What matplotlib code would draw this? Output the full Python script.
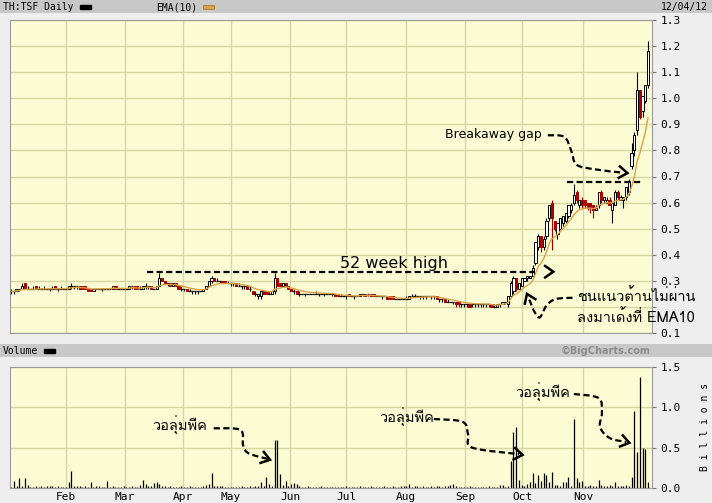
import numpy as np
import pandas as pd
import matplotlib
matplotlib.use('Agg')
import matplotlib.pyplot as plt
from matplotlib import font_manager
from matplotlib.ft2font import FT2Font
from matplotlib.path import Path
from matplotlib.patches import PathPatch, Rectangle
from matplotlib.lines import Line2D
from matplotlib.transforms import IdentityTransform

# daily candles, one row of ten trading days per line (Jan 2012 .. 4 Dec 2012)
opens = [
    .26, .26, .26, .27, .27, .29, .27, .27, .27, .28,
    .27, .27, .27, .27, .27, .27, .28, .27, .27, .27,
    .27, .27, .28, .28, .28, .28, .28, .28, .27, .27,
    .26, .27, .27, .27, .27, .27, .27, .27, .28, .27,
    .27, .27, .27, .27, .28, .28, .28, .27, .27, .28,
    .28, .28, .27, .27, .28, .31, .30, .29, .29, .28,
    .29, .28, .27, .27, .27, .26, .26, .26, .26, .26,
    .26, .27, .28, .30, .31, .30, .30, .30, .30, .29,
    .29, .29, .29, .28, .28, .28, .28, .27, .26, .25,
    .24, .24, .26, .26, .25, .25, .26, .31, .29, .28,
    .29, .28, .27, .26, .26, .25, .25, .25, .25, .25,
    .25, .25, .25, .25, .25, .25, .25, .25, .25, .25,
    .24, .24, .24, .25, .24, .24, .24, .24, .25, .25,
    .25, .25, .25, .24, .24, .24, .24, .24, .24, .24,
    .23, .23, .23, .23, .23, .23, .24, .24, .24, .24,
    .24, .24, .24, .24, .24, .24, .23, .23, .23, .22,
    .22, .22, .22, .22, .21, .21, .21, .21, .21, .21,
    .21, .21, .21, .21, .21, .21, .20, .20, .21, .21,
    .22, .21, .24, .26, .31, .27, .28, .30, .31, .31,
    .32, .37, .43, .47, .43, .47, .54, .60, .53, .48,
    .50, .52, .53, .55, .57, .60, .64, .59, .61, .61,
    .60, .60, .59, .57, .59, .64, .61, .60, .61, .57,
    .59, .64, .61, .61, .62, .64, .74, .80, .88, 1.03,
    .95, .99, 1.05]
highs = [
    .27, .26, .27, .27, .29, .29, .28, .27, .28, .28,
    .28, .27, .28, .27, .27, .28, .28, .27, .28, .27,
    .27, .28, .29, .28, .28, .28, .28, .28, .27, .27,
    .27, .27, .27, .27, .27, .27, .27, .28, .28, .27,
    .27, .27, .27, .28, .28, .28, .28, .28, .28, .29,
    .28, .28, .27, .28, .33, .31, .30, .29, .29, .29,
    .29, .28, .28, .27, .27, .27, .26, .26, .26, .26,
    .27, .28, .30, .32, .31, .31, .30, .30, .30, .30,
    .29, .29, .29, .29, .28, .28, .28, .28, .26, .26,
    .25, .26, .26, .26, .26, .26, .33, .31, .29, .29,
    .29, .28, .27, .27, .26, .26, .25, .25, .25, .25,
    .25, .26, .25, .25, .25, .25, .25, .25, .25, .25,
    .25, .24, .24, .25, .24, .24, .24, .25, .25, .25,
    .25, .25, .25, .24, .24, .24, .24, .24, .24, .24,
    .23, .23, .23, .23, .24, .24, .25, .25, .24, .24,
    .24, .24, .24, .24, .24, .24, .23, .23, .23, .23,
    .22, .22, .22, .22, .21, .21, .21, .21, .21, .21,
    .21, .21, .21, .21, .21, .21, .21, .21, .21, .22,
    .22, .24, .30, .32, .31, .29, .31, .31, .32, .32,
    .36, .45, .48, .47, .47, .54, .59, .61, .53, .52,
    .54, .55, .56, .59, .60, .67, .65, .61, .62, .61,
    .60, .60, .59, .59, .64, .65, .62, .62, .62, .60,
    .65, .65, .63, .62, .66, .69, .83, .87, 1.10, 1.03,
    1.01, 1.05, 1.22]
lows = [
    .25, .25, .26, .26, .27, .27, .27, .27, .27, .27,
    .27, .27, .27, .27, .26, .27, .27, .26, .27, .27,
    .27, .27, .27, .27, .27, .27, .27, .27, .26, .26,
    .26, .27, .27, .26, .27, .27, .27, .27, .27, .27,
    .27, .27, .27, .27, .27, .27, .27, .27, .27, .27,
    .27, .27, .27, .27, .28, .30, .29, .28, .28, .28,
    .28, .27, .26, .26, .26, .26, .25, .25, .25, .26,
    .26, .27, .28, .29, .30, .30, .29, .29, .29, .29,
    .28, .28, .28, .28, .27, .27, .27, .26, .25, .24,
    .23, .23, .25, .25, .25, .25, .25, .28, .28, .28,
    .28, .27, .26, .25, .25, .24, .25, .24, .25, .25,
    .25, .25, .24, .25, .24, .25, .25, .24, .24, .24,
    .24, .24, .23, .24, .24, .23, .24, .24, .24, .24,
    .24, .24, .24, .24, .24, .23, .24, .23, .23, .23,
    .23, .23, .23, .23, .23, .23, .24, .24, .24, .23,
    .23, .23, .24, .23, .23, .23, .22, .22, .22, .22,
    .22, .21, .20, .20, .20, .20, .20, .20, .20, .20,
    .20, .20, .20, .20, .20, .20, .20, .20, .20, .21,
    .21, .20, .24, .25, .26, .27, .28, .30, .30, .31,
    .32, .36, .42, .41, .42, .46, .53, .42, .49, .46,
    .50, .51, .52, .54, .56, .59, .60, .58, .58, .58,
    .57, .56, .54, .57, .58, .60, .60, .60, .59, .52,
    .59, .61, .61, .58, .61, .63, .73, .78, .86, .92,
    .93, .98, 1.04]
closes = [
    .26, .26, .27, .27, .28, .27, .27, .27, .27, .27,
    .27, .27, .27, .27, .27, .27, .27, .27, .27, .27,
    .27, .28, .28, .28, .28, .27, .27, .27, .26, .26,
    .27, .27, .27, .27, .27, .27, .27, .28, .27, .27,
    .27, .27, .27, .28, .28, .27, .27, .27, .28, .28,
    .28, .27, .27, .28, .31, .30, .29, .29, .28, .29,
    .28, .27, .27, .27, .26, .26, .26, .26, .26, .26,
    .27, .28, .30, .31, .30, .30, .30, .29, .29, .29,
    .29, .29, .28, .28, .28, .28, .27, .27, .25, .25,
    .25, .26, .25, .25, .25, .26, .31, .28, .28, .29,
    .28, .27, .26, .26, .25, .25, .25, .25, .25, .25,
    .25, .25, .25, .25, .25, .25, .25, .25, .24, .24,
    .24, .24, .24, .24, .24, .24, .24, .25, .25, .24,
    .25, .24, .24, .24, .24, .24, .24, .23, .23, .23,
    .23, .23, .23, .23, .23, .24, .24, .24, .24, .24,
    .24, .24, .24, .24, .24, .23, .23, .23, .22, .22,
    .22, .22, .21, .21, .21, .21, .21, .20, .21, .21,
    .21, .21, .21, .21, .21, .20, .20, .21, .21, .22,
    .22, .24, .29, .31, .27, .29, .31, .31, .32, .32,
    .35, .45, .47, .43, .46, .53, .59, .54, .50, .52,
    .54, .55, .56, .59, .59, .63, .61, .61, .59, .59,
    .58, .58, .57, .58, .64, .61, .62, .61, .59, .60,
    .64, .62, .62, .62, .66, .68, .79, .86, 1.03, .93,
    1.01, 1.05, 1.18]
# volume in billions of shares
volumes = [
    .01, .09, .02, .12, .03, .13, .04, .01, .01, .02,
    .01, .03, .01, .03, .02, .02, .01, .02, .01, .01,
    .01, .08, .21, .02, .03, .02, .01, .02, .01, .08,
    .01, .02, .03, .01, .01, .09, .01, .02, .01, .01,
    .01, .02, .01, .01, .02, .01, .01, .04, .10, .05,
    .03, .02, .06, .07, .05, .02, .02, .01, .02, .01,
    .01, .01, .02, .01, .01, .02, .01, .01, .01, .01,
    .03, .04, .05, .18, .03, .02, .03, .02, .01, .01,
    .01, .01, .01, .01, .02, .01, .01, .03, .01, .03,
    .02, .08, .03, .14, .05, .02, .59, .59, .17, .04,
    .09, .03, .05, .06, .05, .02, .01, .01, .02, .01,
    .01, .01, .01, .02, .01, .01, .01, .01, .01, .01,
    .01, .01, .02, .01, .01, .01, .01, .02, .01, .01,
    .01, .02, .01, .01, .01, .01, .02, .01, .01, .02,
    .01, .01, .02, .03, .02, .05, .01, .03, .02, .01,
    .02, .01, .01, .02, .01, .03, .02, .01, .02, .03,
    .04, .05, .02, .01, .01, .01, .01, .02, .01, .01,
    .01, .01, .01, .01, .02, .01, .01, .01, .04, .04,
    .01, .03, .33, .69, .76, .10, .04, .03, .05, .08,
    .18, .06, .16, .09, .18, .16, .07, .20, .04, .04,
    .03, .08, .08, .14, .03, .85, .12, .08, .09, .03,
    .02, .04, .03, .02, .10, .04, .03, .03, .04, .02,
    .07, .02, .03, .02, .04, .03, .14, .96, .45, 1.37,
    .50, .48, .07]
months = ['Feb', 'Mar', 'Apr', 'May', 'Jun', 'Jul', 'Aug', 'Sep', 'Oct', 'Nov']
month_pos = [20.0, 41.5, 62.6, 80.1, 101.6, 122.0, 143.8, 165.3, 186.1, 208.3]
price_ticks = [0.1, 0.2, 0.3, 0.4, 0.5, 0.6, 0.7, 0.8, 0.9, 1.0, 1.1, 1.2, 1.3]

W, H = 712, 503
BG = '#eeeeee'
PANEL = '#fcfcd4'
GRID = '#d6d6a2'
RED = '#a80000'
EMA_C = '#d9a248'
MONO = 'DejaVu Sans Mono'


def thai_font():
    for f in font_manager.fontManager.ttflist:
        try:
            if 0x0E0A in FT2Font(f.fname).get_charmap():
                return f.name
        except Exception:
            pass
    return 'DejaVu Sans'


THAI = [thai_font(), 'DejaVu Sans']


def fy(py):
    return 1 - py / H


def smooth(pts):
    pts = np.asarray(pts, float)
    verts, codes = [pts[0]], [Path.MOVETO]
    n = len(pts)
    for i in range(n - 1):
        p0, p1, p2, p3 = pts[max(i - 1, 0)], pts[i], pts[i + 1], pts[min(i + 2, n - 1)]
        verts += [p1 + (p2 - p0) / 6, p2 - (p3 - p1) / 6, p2]
        codes += [Path.CURVE4] * 3
    return Path(verts, codes)


def dashed(ax, pts):
    ax.add_patch(PathPatch(smooth(pts), fill=False, ec='black', lw=1.6,
                           ls=(0, (2.8, 1.5)), transform=ax.transData,
                           clip_on=False, zorder=6))


def head(ax, tip, frm, size=10, ang=35):
    t = ax.transData.transform(tip)
    f = ax.transData.transform(frm)
    d = (t - f) / np.hypot(*(t - f))
    arms = []
    for s in (1, -1):
        a = np.radians(ang * s)
        r = np.array([d[0] * np.cos(a) - d[1] * np.sin(a),
                      d[0] * np.sin(a) + d[1] * np.cos(a)])
        arms.append(t - r * size)
    ax.add_line(Line2D([arms[0][0], t[0], arms[1][0]], [arms[0][1], t[1], arms[1][1]],
                       transform=IdentityTransform(), color='black', lw=1.8,
                       solid_joinstyle='miter', clip_on=False, zorder=7))


fig = plt.figure(figsize=(W / 100, H / 100), dpi=100, facecolor=BG)

# header bars
for top, bot in [(0, 13), (344, 357)]:
    fig.add_artist(Rectangle((0, fy(bot)), 1, (bot - top) / H, transform=fig.transFigure,
                             facecolor='#c8c8c8', edgecolor='none'))
fig.text(3 / W, fy(7), 'TH:TSF Daily', fontsize=7, family=MONO, va='center')
fig.add_artist(Rectangle((80 / W, fy(8.5)), 11 / W, 4 / H, transform=fig.transFigure, color='black'))
fig.text(156 / W, fy(7), 'EMA(10)', fontsize=7, family=MONO, va='center')
fig.add_artist(Rectangle((203 / W, fy(8.5)), 11 / W, 4 / H, transform=fig.transFigure,
                         facecolor=EMA_C, edgecolor='#a07020', lw=0.5))
fig.text(708 / W, fy(7), '12/04/12', fontsize=7, family=MONO, va='center', ha='right')
fig.text(3 / W, fy(351), 'Volume', fontsize=7, family=MONO, va='center')
fig.add_artist(Rectangle((44 / W, fy(353)), 11 / W, 4 / H, transform=fig.transFigure, color='black'))
fig.text(651 / W, fy(351), '\u00a9BigCharts.com', fontsize=7, weight='bold', color='#8c8c8c',
         va='center', ha='right')

ax = fig.add_axes([10 / W, fy(333), 642 / W, 313 / H])
axv = fig.add_axes([10 / W, fy(488), 642 / W, 121 / H])

x = np.arange(len(closes))
o, h, l, c = (np.array(v) for v in (opens, highs, lows, closes))
flat = np.isclose(c, o)
up = (c > o) & ~flat
down = (c < o) & ~flat

for a in (ax, axv):
    a.set_facecolor(PANEL)
    a.set_xlim(-0.4, len(closes) + 0.45)
    a.set_xticks(month_pos)
    a.grid(True, color=GRID, lw=1)
    a.set_axisbelow(True)
    a.yaxis.tick_right()
    a.tick_params(axis='y', length=3, color='#777777', labelsize=8, pad=3)
    a.tick_params(axis='x', length=0)
    for s in a.spines.values():
        s.set_color('#9a9a9a')

# price panel
ax.set_ylim(0.1, 1.3)
ax.set_yticks(price_ticks)
# the 0.2 label sits under the Thai note in the original
ax.set_yticklabels(['' if v == 0.2 else '%.1f' % v for v in price_ticks], family=MONO)
ax.set_xticklabels([])
ax.vlines(x[~down], l[~down], h[~down], color='black', lw=0.8, zorder=3)
ax.vlines(x[down], l[down], h[down], color=RED, lw=0.8, zorder=3)
ax.bar(x[up], c[up] - o[up], bottom=o[up], width=0.8, facecolor='white',
       edgecolor='black', lw=0.7, zorder=4)
ax.bar(x[down], o[down] - c[down], bottom=c[down], width=0.8, facecolor=RED,
       edgecolor=RED, lw=0.7, zorder=4)
ax.hlines(c[flat], x[flat] - 0.5, x[flat] + 0.5, color='black', lw=0.9, zorder=4)
ema = pd.Series(closes).ewm(span=10, adjust=False).mean()
ax.plot(x, ema, color=EMA_C, lw=1.0, zorder=5)

# volume panel
axv.set_ylim(0, 1.5)
axv.set_yticks([0, 0.5, 1.0, 1.5])
axv.set_yticklabels(['0.0', '0.5', '1.0', '1.5'], family=MONO)
axv.set_xticklabels(months, family=MONO, fontsize=8)
axv.tick_params(axis='x', pad=3)
axv.vlines(x, 0, volumes, color='black', lw=0.9, zorder=3)
fig.text(705 / W, fy(427), 'B i l l i o n s', rotation=90, fontsize=7, family=MONO,
         va='center', ha='center')

# annotations on price
ax.plot([49.5, 191], [0.335, 0.335], color='black', lw=1.6, ls=(0, (2.8, 1.5)), zorder=6)
head(ax, (197.5, 0.335), (190, 0.335))
ax.text(139.5, 0.366, '52 week high', fontsize=11.5, ha='center', va='center', zorder=8)
ax.plot([202.5, 229.5], [0.678, 0.678], color='black', lw=1.6, ls=(0, (2.8, 1.5)), zorder=6)
ax.text(158, 0.862, 'Breakaway gap', fontsize=9, ha='left', va='center', zorder=8)
gap_pts = [(195.5, 0.858), (201.5, 0.852), (204, 0.80), (206, 0.745), (213, 0.727), (224.5, 0.713)]
dashed(ax, gap_pts[:-1] + [(222.5, 0.715)])
head(ax, gap_pts[-1], (213, 0.727))
ax.text(206, 0.242, 'ชนแนวต้านไม่ผ่าน', family=THAI, fontsize=10.5, va='center',
        ha='left', zorder=8, clip_on=False)
ax.text(206, 0.162, 'ลงมาเด้งที่ EMA10', family=THAI, fontsize=10.5, va='center',
        ha='left', zorder=8, clip_on=False)
ema_pts = [(204.5, 0.235), (198.3, 0.230), (195.0, 0.205), (192.6, 0.160),
           (190.6, 0.182), (189.0, 0.222), (188.2, 0.240)]
dashed(ax, ema_pts)
head(ax, (187.9, 0.250), (189.3, 0.215))

# annotations on volume
vol_notes = [
    ((179.5, 0.78), [(73.8, 0.74), (83.5, 0.72), (84.5, 0.53), (86.5, 0.43), (93.5, 0.36)], (94.3, 0.35)),
    ((407, 0.87), [(154, 0.855), (164.5, 0.82), (166.5, 0.66), (168, 0.50), (185, 0.42)], (186.3, 0.41)),
    ((543, 1.18), [(205, 1.165), (214, 1.115), (215.2, 0.93), (214.5, 0.756), (218, 0.62), (224, 0.57)], (225.2, 0.56)),
]
for (tx, ty), pts, tip in vol_notes:
    axv.text((tx - 11) / 2.746, ty, 'วอลุ่มพีค', family=THAI, fontsize=10.5,
             ha='center', va='center', zorder=8)
    dashed(axv, pts)
    head(axv, tip, pts[-2])

fig.savefig('out.png', dpi=100, facecolor=BG)
